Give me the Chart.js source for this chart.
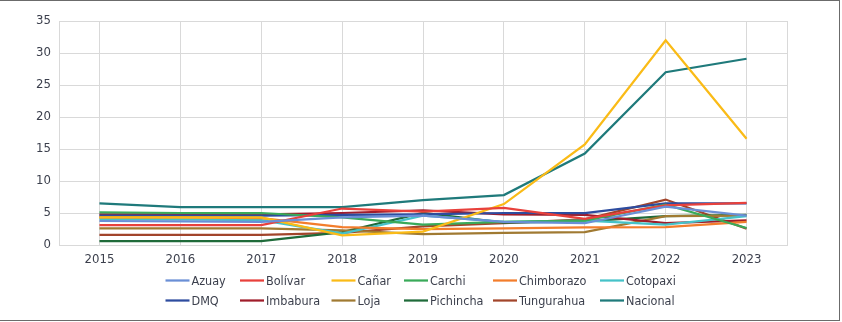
<!DOCTYPE html>
<html>
<head>
<meta charset="utf-8">
<script src="https://cdn.jsdelivr.net/npm/chart.js@4/dist/chart.umd.min.js"></script>
<style>
html,body{margin:0;padding:0;background:#fff;}
#wrap{position:relative;width:842px;height:322px;}
#frame{position:absolute;left:0;top:0;width:839px;height:319px;border-top:1px solid #6b6b6b;border-right:1px solid #6b6b6b;border-bottom:1px solid #6b6b6b;pointer-events:none;}
canvas{position:absolute;left:0;top:0;}
</style>
</head>
<body>
<div id="wrap">
<canvas id="c" width="842" height="322"></canvas>
<div id="frame"></div>
</div>
<script>
const years = ['2015','2016','2017','2018','2019','2020','2021','2022','2023'];
const yTicks = [0,5,10,15,20,25,30,35];

const azuay      = [3.75, 3.7, 3.6, 4.3, 4.6, 3.6, 3.4, 6.0, 4.6];
const bolivar    = [3.1, 3.1, 3.1, 5.7, 5.2, 5.8, 4.1, 6.2, 6.6];
const canar      = [4.3, 4.3, 4.3, 1.5, 2.1, 6.4, 15.7, 32.0, 16.6];
const carchi     = [5.1, 5.0, 5.0, 4.3, 3.2, 3.6, 3.8, 6.3, 2.65];
const chimborazo = [4.3, 4.3, 4.2, 2.8, 2.5, 2.6, 2.75, 2.8, 3.6];
const cotopaxi   = [4.1, 4.0, 3.9, 1.8, 4.6, 3.6, 3.8, 3.2, 4.5];
const dmq        = [4.6, 4.6, 4.6, 4.7, 4.8, 5.0, 5.0, 6.5, 6.5];
const imbabura   = [4.8, 4.8, 4.8, 5.0, 5.4, 4.8, 4.7, 3.4, 3.85];
const loja       = [2.6, 2.6, 2.6, 2.3, 1.7, 1.9, 2.0, 4.5, 4.6];
const pichincha  = [0.6, 0.6, 0.6, 2.0, 5.0, 3.5, 3.7, 4.5, 4.7];
const tungurahua = [1.6, 1.6, 1.6, 1.9, 2.9, 3.4, 4.0, 7.1, 2.55];
const nacional   = [6.5, 5.9, 5.9, 5.9, 7.0, 7.8, 14.3, 27.0, 29.1];

const seriesNames = ['Azuay','Bolívar','Cañar','Carchi','Chimborazo','Cotopaxi','DMQ','Imbabura','Loja','Pichincha','Tungurahua','Nacional'];
const seriesData = [azuay,bolivar,canar,carchi,chimborazo,cotopaxi,dmq,imbabura,loja,pichincha,tungurahua,nacional];
const seriesColors = ['#6A8FD6','#E8413C','#FABB17','#3AAA5A','#F37D2C','#46C2C8','#2D4C9F','#A01D2B','#A07A32','#1F6B3A','#A2452B','#1F7A7B'];

const FONT = "'Liberation Sans Narrow', 'DejaVu Sans Condensed', sans-serif";
const TEXT = '#3b3f4c';

const gridLegend = {
  id: 'gridLegend',
  afterDraw(chart) {
    const ctx = chart.ctx;
    const ds = chart.data.datasets;
    ctx.save();
    ctx.font = '12.5px ' + FONT;
    const lineLen = 24, gap = 2, cols = 6;
    const colOffsets = [0, 74.5, 166, 238.5, 327.5, 434.5];
    const ca = chart.chartArea;
    const startX = ca.left + 106.5;
    const rowsY = [ca.bottom + 35.5, ca.bottom + 55.5];
    ctx.textBaseline = 'middle';
    ctx.textAlign = 'left';
    for (let c = 0; c < cols; c++) {
      const x = startX + colOffsets[c];
      for (let r = 0; r < 2; r++) {
        const d = ds[r*cols + c];
        if (!d) continue;
        const y = rowsY[r];
        ctx.strokeStyle = d.borderColor;
        ctx.lineWidth = 2.25;
        ctx.beginPath();
        ctx.moveTo(x, y);
        ctx.lineTo(x + lineLen, y);
        ctx.stroke();
        ctx.fillStyle = TEXT;
        ctx.fillText(d.label, x + lineLen + gap, y + 1);
      }
    }
    ctx.restore();
  }
};

const frameRight = {
  id: 'frameRight',
  beforeDatasetsDraw(chart) {
    const ca = chart.chartArea, ctx = chart.ctx;
    ctx.save();
    ctx.strokeStyle = '#d9d9d9';
    ctx.lineWidth = 1;
    ctx.beginPath();
    ctx.moveTo(Math.round(ca.right) + 0.5, ca.top);
    ctx.lineTo(Math.round(ca.right) + 0.5, ca.bottom);
    ctx.stroke();
    ctx.restore();
  }
};

new Chart(document.getElementById('c'), {
  type: 'line',
  data: {
    labels: years,
    datasets: seriesNames.map((n, i) => ({
      label: n,
      data: seriesData[i],
      borderColor: seriesColors[i],
      backgroundColor: seriesColors[i],
      borderWidth: 2.25,
      pointRadius: 0,
      tension: 0,
      fill: false
    }))
  },
  options: {
    responsive: false,
    devicePixelRatio: 1,
    animation: false,
    layout: { padding: { left: 0, top: 21, right: 55, bottom: 52 } },
    plugins: { legend: { display: false }, tooltip: { enabled: false } },
    scales: {
      x: {
        offset: true,
        grid: { display: true, offset: false, color: '#d9d9d9', lineWidth: 1, drawTicks: false },
        border: { display: true, color: '#d9d9d9' },
        ticks: { color: TEXT, font: { family: FONT, size: 13 }, padding: 7, maxRotation: 0 },
        afterFit(s) { s.height = 25; }
      },
      y: {
        min: 0, max: 35,
        afterBuildTicks(s) { s.ticks = yTicks.map(v => ({ value: v })); },
        grid: { color: '#d9d9d9', lineWidth: 1, drawTicks: false },
        border: { display: true, color: '#d9d9d9' },
        ticks: { color: TEXT, font: { family: FONT, size: 13 }, padding: 8 },
        afterFit(s) { s.width = 59; }
      }
    }
  },
  plugins: [gridLegend, frameRight]
});
</script>
</body>
</html>
